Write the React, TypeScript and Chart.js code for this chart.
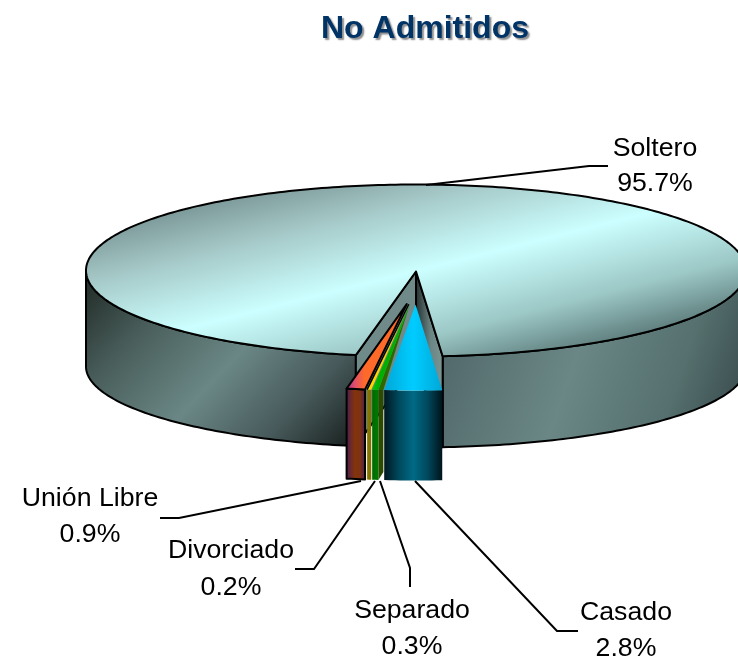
import React, { useEffect, useRef } from "react";
import { Chart, registerables } from "chart.js";

Chart.register(...registerables);

const categories = ["Soltero", "Casado", "Separado", "Divorciado", "Unión Libre"];
const seriesValues = [95.7, 2.8, 0.3, 0.2, 0.9];
const titleText = "No Admitidos";

const CX = 416, CY = 270.5, RX = 330, RY = 86;
const BOTTOM_DY = 96, BOTTOM_RY = 81;
const EXPLODE_X = 60, EXPLODE_Y = 34, SLICE_DEPTH = 90;
const LABEL_FONT = '26.7px "Liberation Sans", Arial, sans-serif';
const DEG = Math.PI / 180;

const labelLayout = [
  { x: 655, y1: 156, y2: 191, line: [[426, 185], [589, 166], [608, 166]] },
  { x: 626, y1: 620, y2: 656, line: [[415, 481], [557, 631], [578, 631]] },
  { x: 412, y1: 618, y2: 654, line: [[380, 481], [410, 568], [410, 587]] },
  { x: 231, y1: 558, y2: 595, line: [[375, 481], [314, 569], [295, 569]] },
  { x: 90, y1: 506, y2: 542, line: [[361, 481], [179, 518], [160, 518]] },
];

type Stop = [number, string];
function linear(ctx: CanvasRenderingContext2D, x0: number, y0: number, x1: number, y1: number, stops: Stop[]) {
  const g = ctx.createLinearGradient(x0, y0, x1, y1);
  stops.forEach(([o, c]) => g.addColorStop(o, c));
  return g;
}

const pie3d = {
  id: "pie3d",
  beforeDraw(chart: any) {
    const c = chart.ctx;
    c.shadowColor = "rgba(0,0,0,0.45)";
    c.shadowOffsetX = 2;
    c.shadowOffsetY = 2;
    c.shadowBlur = 1.5;
  },
  beforeDatasetsDraw(chart: any) {
    const ctx: CanvasRenderingContext2D = chart.ctx;
    ctx.shadowColor = "transparent";
    ctx.shadowOffsetX = ctx.shadowOffsetY = ctx.shadowBlur = 0;
    const arcs = chart.getDatasetMeta(0).data;
    const R = arcs[0].outerRadius;
    const sx = RX / R, sy = RY / R;
    const rim = (t: number, dx = 0, dy = 0): [number, number] => [CX + dx + RX * Math.cos(t), CY + dy + RY * Math.sin(t)];
    const low = (t: number): [number, number] => [CX + RX * Math.cos(t), CY + BOTTOM_DY + BOTTOM_RY * Math.sin(t)];

    const poly = (pts: [number, number][], fill?: any, width = 2, stroke = true) => {
      ctx.beginPath();
      pts.forEach((p, i) => (i ? ctx.lineTo(p[0], p[1]) : ctx.moveTo(p[0], p[1])));
      ctx.closePath();
      if (fill) { ctx.fillStyle = fill; ctx.fill(); }
      if (stroke) { ctx.strokeStyle = "#000"; ctx.lineWidth = width; ctx.lineJoin = "round"; ctx.stroke(); }
    };
    const sweep = (a: number, b: number, f: (t: number) => [number, number]) => {
      const n = Math.max(2, Math.ceil(Math.abs(b - a) / (1 * DEG)));
      const out: [number, number][] = [];
      for (let i = 0; i <= n; i++) out.push(f(a + ((b - a) * i) / n));
      return out;
    };
    const drawTop = (arc: any, fill: any, dx: number, dy: number) => {
      ctx.save();
      ctx.transform(sx, 0, 0, sy, CX + dx - sx * arc.x, CY + dy - sy * arc.y);
      const own = arc.options;
      arc.options = Object.create(own);
      arc.options.backgroundColor = fill;
      arc.options.borderWidth = 0;
      arc.draw(ctx);
      arc.options = own;
      ctx.restore();
    };
    // gradient for the squashed pie space whose isolines fall where a screen-space gradient A->B would put them
    const topGrad = (arc: any, x0: number, y0: number, x1: number, y1: number, dx: number, dy: number, stops: Stop[]) => {
      const ax = arc.x + (x0 - CX - dx) / sx, ay = arc.y + (y0 - CY - dy) / sy;
      const vx = x1 - x0, vy = y1 - y0;
      const ux = vx * sx, uy = vy * sy;
      const k = (vx * vx + vy * vy) / (ux * ux + uy * uy);
      return linear(ctx, ax, ay, ax + k * ux, ay + k * uy, stops);
    };

    // ---- large slice ----
    const big = arcs[0];
    const a0 = big.startAngle, a1 = big.endAngle;
    const a1n = a1 - 2 * Math.PI;

    const leftWall = [...sweep(a0, Math.PI, rim), ...sweep(Math.PI, a0, low)];
    poly(leftWall, linear(ctx, 107, 273, 327, 481, [
      [0, "#27332f"], [0.22, "#4a5f5c"], [0.5, "#6a8785"], [0.76, "#47595a"], [1, "#141b19"],
    ]));
    const rightWall = [...sweep(0, a1n, rim), ...sweep(a1n, 0, low)];
    poly(rightWall, linear(ctx, 445, 335, 740, 440, [
      [0, "#52686a"], [0.42, "#6a8785"], [0.75, "#55706e"], [1, "#37474a"],
    ]));

    // notch walls
    const pL = rim(a0), pR = rim(a1n);
    const apex: [number, number] = [CX, CY + 1];
    const apexLow: [number, number] = [CX, CY + 92];
    poly([apex, pR, [pR[0], pR[1] + 91], apexLow],
      linear(ctx, CX, 0, pR[0], 0, [[0, "#26302f"], [0.55, "#6a8583"], [1, "#7a9694"]]));
    poly([apex, pL, [pL[0], pL[1] + 91], apexLow], "#6f8a88");

    const grad = topGrad(big, 400 - 29, 275 - 116, 400 + 29, 275 + 116, 0, 0, [
      [0, "#7a9796"], [0.2, "#a3c6c5"], [0.5, "#ccffff"], [0.78, "#9cc8c6"], [1, "#5b7a79"],
    ]);
    drawTop(big, grad, 0, 0);
    ctx.beginPath();
    ctx.moveTo(CX, CY + 1);
    sweep(a0, a1, rim).forEach((p) => ctx.lineTo(p[0], p[1]));
    ctx.closePath();
    ctx.strokeStyle = "#000";
    ctx.lineWidth = 2;
    ctx.lineJoin = "round";
    ctx.stroke();

    // ---- small slices, left to right ----
    const styles: Record<number, { top: Stop[]; wall: Stop[]; line: number; side?: [string, string] }> = {
      4: {
        top: [[0, "#a83098"], [0.45, "#e0506a"], [1, "#ff6a28"]],
        wall: [[0, "#4e1e50"], [0.45, "#84340c"], [0.75, "#7c3212"], [1, "#4e1e50"]],
        line: 2,
      },
      3: { top: [[0, "#ffe000"], [1, "#ffd400"]], wall: [[0, "#8a7a00"], [1, "#807000"]], line: 0 },
      2: {
        top: [[0, "#00c800"], [1, "#00b000"]],
        wall: [[0, "#006a00"], [1, "#007a00"]],
        line: 0,
        side: ["#2c6a00", "#2c4a00"],
      },
      1: {
        top: [[0, "#00a8d8"], [0.5, "#00ccff"], [1, "#00a8d8"]],
        wall: [[0, "#001820"], [0.25, "#00485c"], [0.5, "#006a84"], [0.75, "#00485c"], [1, "#00141c"]],
        line: 0,
      },
    };
    for (const i of [4, 3, 2, 1]) {
      const arc = arcs[i];
      const mid = (arc.startAngle + arc.endAngle) / 2;
      const dx = EXPLODE_X * Math.cos(mid), dy = EXPLODE_Y * Math.sin(mid);
      const s = styles[i];
      const p0 = rim(arc.endAngle, dx, dy), p1 = rim(arc.startAngle, dx, dy);
      const xl = Math.min(p0[0], p1[0]), xr = Math.max(p0[0], p1[0]);
      const edge = sweep(arc.startAngle, arc.endAngle, (t) => rim(t, dx, dy));
      const wall: [number, number][] = [
        ...edge,
        ...edge.slice().reverse().map((p) => [p[0], p[1] + SLICE_DEPTH] as [number, number]),
      ];
      if (s.side) {
        // the slice's own radial face, seen beside its rim
        const sw = 5;
        poly([[CX + dx, CY + dy], p1, [p1[0] + sw, p1[1]]], s.side[0], 0, false);
        poly([p1, [p1[0] + sw, p1[1]], [p1[0] + sw, p1[1] + SLICE_DEPTH - 8], [p1[0], p1[1] + SLICE_DEPTH]], s.side[1], 0, false);
      }
      poly(wall, linear(ctx, xl, 0, xr, 0, s.wall), s.line, s.line > 0);
      drawTop(arc, topGrad(arc, xl, 0, xr, 0, dx, dy, s.top), dx, dy);
      const outline: [number, number][] = [[CX + dx, CY + dy], ...edge];
      if (s.line) poly(outline, null, s.line);
      else if (i === 3) {
        ctx.beginPath();
        ctx.moveTo(CX + dx, CY + dy);
        ctx.lineTo(p0[0], p0[1]);
        ctx.strokeStyle = "#000";
        ctx.lineWidth = 1.5;
        ctx.stroke();
      }
    }

    // ---- leader lines and labels ----
    ctx.strokeStyle = "#000";
    ctx.lineWidth = 2;
    ctx.lineJoin = "miter";
    ctx.fillStyle = "#000";
    ctx.font = LABEL_FONT;
    ctx.textAlign = "center";
    ctx.textBaseline = "alphabetic";
    categories.forEach((name, i) => {
      const l = labelLayout[i];
      ctx.beginPath();
      l.line.forEach((p, j) => (j ? ctx.lineTo(p[0], p[1]) : ctx.moveTo(p[0], p[1])));
      ctx.stroke();
      ctx.fillText(name, l.x, l.y1);
      ctx.fillText(seriesValues[i].toFixed(1) + "%", l.x, l.y2);
    });
    return false;
  },
};

export default function App() {
  const ref = useRef<HTMLCanvasElement>(null);
  useEffect(() => {
    const chart = new Chart(ref.current as HTMLCanvasElement, {
      type: "pie",
      data: {
        labels: categories,
        datasets: [{ data: seriesValues, backgroundColor: "#ccffff", borderWidth: 0 }],
      },
      options: {
        responsive: false,
        animation: false,
        rotation: 190.5,
        layout: { padding: { left: 112 } },
        plugins: {
          legend: { display: false },
          tooltip: { enabled: false },
          title: {
            display: true,
            text: titleText,
            fullSize: false,
            color: "#003366",
            font: { family: '"Liberation Sans", Arial, sans-serif', size: 32, weight: "bold" },
            padding: { top: 10, bottom: 10 },
          },
        },
      },
      plugins: [pie3d],
    } as any);
    return () => chart.destroy();
  }, []);
  return (
    <div style={{ position: "absolute", left: 0, top: 0, width: 738, height: 662 }}>
      <canvas ref={ref} width={738} height={662} style={{ display: "block" }} />
    </div>
  );
}
